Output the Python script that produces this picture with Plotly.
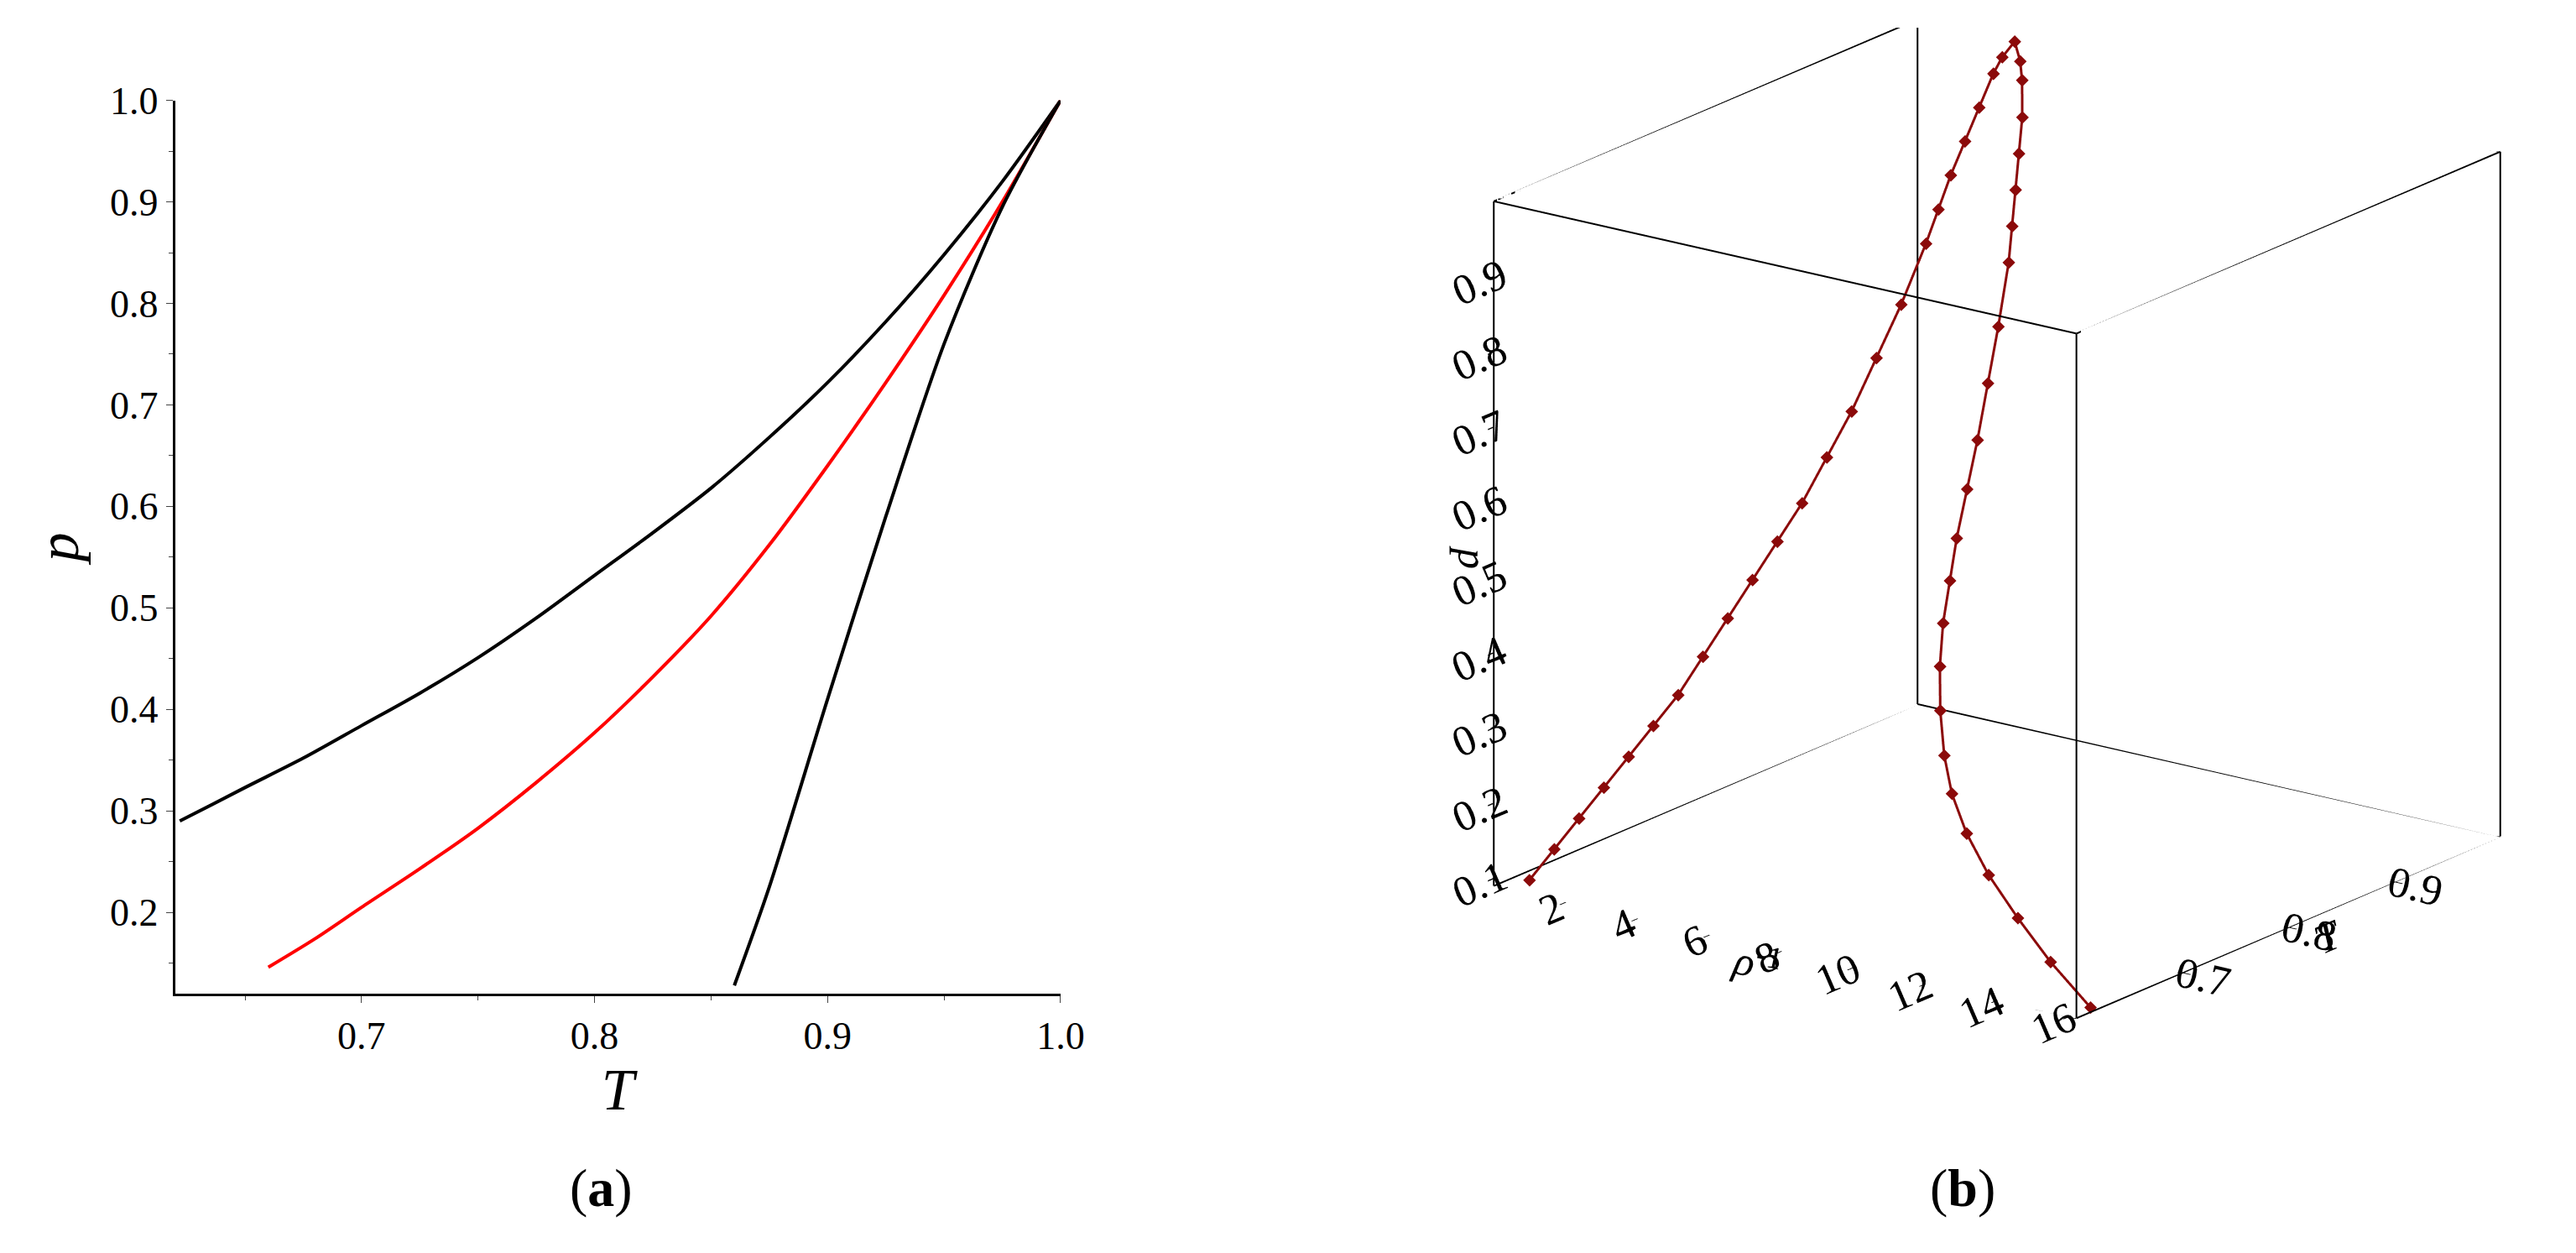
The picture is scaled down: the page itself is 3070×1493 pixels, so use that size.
import plotly.graph_objects as go

# Panel (a): p vs T
T_upper = [0.622, 0.65, 0.675, 0.70, 0.725, 0.75, 0.775, 0.80, 0.825, 0.85, 0.875, 0.90, 0.925, 0.95, 0.975, 1.0]
p_upper = [0.290, 0.323, 0.352, 0.384, 0.416, 0.451, 0.490, 0.532, 0.574, 0.618, 0.668, 0.722, 0.782, 0.848, 0.920, 1.0]
T_red = [0.66, 0.68, 0.70, 0.725, 0.75, 0.775, 0.80, 0.825, 0.85, 0.875, 0.90, 0.925, 0.95, 0.975, 1.0]
p_red = [0.146, 0.174, 0.205, 0.243, 0.283, 0.328, 0.377, 0.432, 0.492, 0.562, 0.640, 0.722, 0.808, 0.900, 1.0]
T_steep = [0.86, 0.875, 0.90, 0.925, 0.95, 0.975, 1.0]
p_steep = [0.128, 0.225, 0.410, 0.590, 0.760, 0.895, 1.0]

# Panel (b): 3D coexistence curve
T3 = [0.62, 0.64, 0.66, 0.68, 0.70, 0.72, 0.74, 0.76, 0.78, 0.80, 0.82, 0.84, 0.86,
      0.88, 0.90, 0.92, 0.94, 0.95, 0.96, 0.97, 0.98, 0.99, 0.995, 1.0]
p3 = [0.09, 0.12, 0.15, 0.18, 0.21, 0.24, 0.27, 0.31, 0.35, 0.39, 0.43, 0.47, 0.52,
      0.57, 0.63, 0.69, 0.76, 0.80, 0.84, 0.88, 0.92, 0.96, 0.98, 1.0]
v_liq = [0.4, 0.5, 0.6, 0.7, 0.8, 0.9, 1.0, 1.1, 1.2, 1.3, 1.4, 1.5, 1.6,
         1.7, 1.8, 1.9, 2.0, 2.05, 2.1, 2.2, 2.3, 2.4, 2.5, 2.7]
v_gas = [16.0, 14.3, 12.8, 11.4, 10.2, 9.2, 8.4, 7.7, 7.1, 6.6, 6.2, 5.8, 5.5,
         5.2, 4.9, 4.6, 4.3, 4.1, 3.9, 3.7, 3.5, 3.2, 3.0, 2.7]

XR = [0, 16.2]
YR = [0.6, 1.0]
ZR = [0.09, 1.0]

font = "Liberation Serif"
fig = go.Figure()
fig.add_trace(go.Scatter(x=T_upper, y=p_upper, mode="lines", line=dict(color="black", width=4, shape="spline", smoothing=0.8), showlegend=False))
fig.add_trace(go.Scatter(x=T_red, y=p_red, mode="lines", line=dict(color="red", width=4, shape="spline", smoothing=0.8), showlegend=False))
fig.add_trace(go.Scatter(x=T_steep, y=p_steep, mode="lines", line=dict(color="black", width=4, shape="spline", smoothing=0.8), showlegend=False))

# cube frame from axis ranges
bx, by, bz = [], [], []
for a in (0, 1):
    for b in (0, 1):
        bx += [XR[0], XR[1], None]; by += [YR[a], YR[a], None]; bz += [ZR[b], ZR[b], None]
        bx += [XR[a], XR[a], None]; by += [YR[0], YR[1], None]; bz += [ZR[b], ZR[b], None]
        bx += [XR[a], XR[a], None]; by += [YR[b], YR[b], None]; bz += [ZR[0], ZR[1], None]
fig.add_trace(go.Scatter3d(x=bx, y=by, z=bz, mode="lines", line=dict(color="black", width=4),
                           showlegend=False, hoverinfo="skip"))

mk = dict(symbol="diamond", size=5, color="#8b0a0a")
fig.add_trace(go.Scatter3d(x=v_liq, y=T3, z=p3, mode="lines+markers", marker=mk,
                           line=dict(color="#8b0a0a", width=6), showlegend=False))
fig.add_trace(go.Scatter3d(x=v_gas, y=T3, z=p3, mode="lines+markers", marker=mk,
                           line=dict(color="#8b0a0a", width=6), showlegend=False))

ax3 = dict(showgrid=False, showbackground=False, showline=False, ticks="outside", tickcolor="black",
           ticklen=12, tickwidth=3, zeroline=False,
           tickfont=dict(family=font, size=25, color="black"), showspikes=False)
tf3 = dict(family=font, size=50, color="black")

fig.update_layout(
    width=3070, height=1493, paper_bgcolor="white", plot_bgcolor="white",
    margin=dict(l=0, r=0, t=0, b=0),
    xaxis=dict(domain=[0.066, 0.413], range=[0.62, 1.0], tickvals=[0.7, 0.8, 0.9, 1.0],
               ticktext=["0.7", "0.8", "0.9", "1.0"], showgrid=False, zeroline=False,
               showline=True, linecolor="black", linewidth=3, ticks="outside", ticklen=8,
               minor=dict(dtick=0.05, ticks="outside", ticklen=5),
               tickfont=dict(family=font, size=46, color="black"),
               title=dict(text="<i>T</i>", font=dict(family=font, size=70, color="black"), standoff=0)),
    yaxis=dict(domain=[0.216, 0.941], range=[0.12, 1.0], tickvals=[0.2, 0.3, 0.4, 0.5, 0.6, 0.7, 0.8, 0.9, 1.0],
               ticktext=["0.2", "0.3", "0.4", "0.5", "0.6", "0.7", "0.8", "0.9", "1.0"],
               showgrid=False, zeroline=False, showline=True, linecolor="black", linewidth=3,
               ticks="outside", ticklen=8, minor=dict(dtick=0.05, ticks="outside", ticklen=5),
               tickfont=dict(family=font, size=46, color="black"),
               title=dict(text="<i>p</i>", font=dict(family=font, size=70, color="black"), standoff=15)),
    scene=dict(domain=dict(x=[0.56, 1.0], y=[0.1, 1.0]), aspectmode="manual",
               aspectratio=dict(x=1.3, y=1.3, z=1.3),
               xaxis=dict(ax3, range=XR, tickvals=[2, 4, 6, 8, 10, 12, 14, 16],
                          title=dict(text="<i>ρ</i><sup>-1</sup>", font=tf3)),
               yaxis=dict(ax3, range=YR, tickvals=[0.7, 0.8, 0.9],
                          title=dict(text="<i>T</i>", font=tf3)),
               zaxis=dict(ax3, range=ZR, tickvals=[0.1, 0.2, 0.3, 0.4, 0.5, 0.6, 0.7, 0.8, 0.9],
                          title=dict(text="<i>p</i>", font=tf3)),
               camera=dict(eye=dict(x=1.2, y=-1.65, z=0.55), center=dict(x=0, y=0, z=-0.12),
                           projection=dict(type="orthographic"))),
    annotations=[
        dict(text="(<b>a</b>)", x=0.22, y=0.033, xref="paper", yref="paper", showarrow=False,
             font=dict(family=font, size=64, color="black")),
        dict(text="(<b>b</b>)", x=0.78, y=0.033, xref="paper", yref="paper", showarrow=False,
             font=dict(family=font, size=64, color="black")),
    ],
)
fig.write_html("out.html")
